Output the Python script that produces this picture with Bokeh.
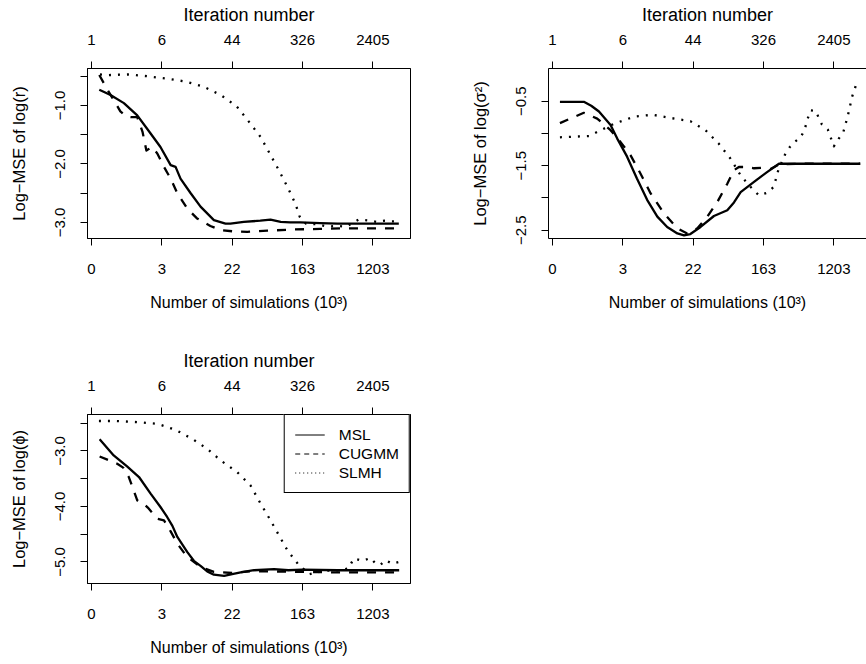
from bokeh.plotting import figure
from bokeh.models import (LinearAxis, FixedTicker, CustomJSTickFormatter, Range1d,
                          Legend, LegendItem, ColumnDataSource)
from bokeh.layouts import column, row
from bokeh.embed import file_html
from bokeh.resources import INLINE

FONT = "Liberation Sans"

# ---------------- data ----------------
tick_pos = [0, 2, 4, 6, 8]
sim_labels = ["0", "3", "22", "163", "1203"]
iter_labels = ["1", "6", "44", "326", "2405"]
series_names = ["MSL", "CUGMM", "SLMH"]

# Panel 1: log(r)
r_msl_x = [0.22, 0.54, 0.92, 1.3, 1.68, 1.96, 2.25, 2.39, 2.53, 2.82, 3.1, 3.48, 3.81, 3.95, 4.33,
           4.8, 5.09, 5.38, 5.65, 5.94, 6.5, 7.0, 7.5, 8.0, 8.74]
r_msl_y = [-0.73, -0.82, -0.96, -1.17, -1.48, -1.71, -2.02, -2.05, -2.25, -2.5, -2.73, -2.96, -3.02, -3.02, -2.99,
           -2.97, -2.95, -2.99, -3.0, -3.0, -3.01, -3.02, -3.02, -3.02, -3.02]
r_cug_x = [0.22, 0.35, 0.54, 0.82, 1.0, 1.11, 1.3, 1.45, 1.56, 1.72, 1.87, 2.06, 2.25, 2.44, 2.72, 3.0,
           3.38, 3.67, 4.0, 4.43, 5.0, 5.75, 6.5, 7.18, 8.0, 8.74]
r_cug_y = [-0.48, -0.62, -0.82, -1.1, -1.19, -1.2, -1.2, -1.45, -1.77, -1.71, -1.82, -2.05, -2.25, -2.5, -2.76, -2.93,
           -3.06, -3.13, -3.15, -3.16, -3.14, -3.12, -3.11, -3.1, -3.1, -3.1]
r_slm_x = [0.24, 0.49, 1.04, 1.58, 2.13, 2.67, 3.19, 3.67, 4.12, 4.48, 4.81, 5.04, 5.33, 5.57, 5.8, 5.92,
           6.1, 6.4, 6.7, 7.0, 7.24, 7.45, 7.6, 7.94, 8.1, 8.33, 8.5, 8.65]
r_slm_y = [-0.47, -0.48, -0.47, -0.5, -0.54, -0.59, -0.68, -0.82, -1.01, -1.28, -1.54, -1.79, -2.11, -2.39, -2.68, -2.9,
           -3.02, -3.03, -3.07, -3.06, -3.07, -3.0, -2.95, -2.97, -2.99, -2.97, -2.98, -2.98]

# Panel 2: log(sigma^2)
s_msl_x = [0.21, 0.89, 1.1, 1.32, 1.65, 1.84, 2.12, 2.4, 2.69, 2.98, 3.26, 3.55, 3.74, 3.92, 4.21, 4.59,
           4.97, 5.16, 5.35, 5.73, 6.1, 6.44, 7.0, 8.0, 8.75]
s_msl_y = [-0.51, -0.51, -0.57, -0.66, -0.87, -1.08, -1.36, -1.7, -2.03, -2.29, -2.45, -2.55, -2.58, -2.56, -2.45, -2.28,
           -2.19, -2.07, -1.91, -1.75, -1.6, -1.47, -1.47, -1.47, -1.47]
s_cug_x = [0.21, 0.89, 1.27, 1.65, 1.93, 2.22, 2.5, 2.79, 3.17, 3.55, 3.83, 4.12, 4.4, 4.69, 4.97, 5.16,
           5.3, 5.5, 5.73, 6.0, 6.2, 6.44, 7.0, 8.0, 8.75]
s_cug_y = [-0.84, -0.68, -0.77, -0.95, -1.13, -1.34, -1.62, -1.93, -2.24, -2.47, -2.55, -2.47, -2.29, -2.06, -1.78, -1.57,
           -1.52, -1.52, -1.54, -1.53, -1.55, -1.48, -1.47, -1.47, -1.47]
s_slm_x = [0.21, 0.6, 1.04, 1.37, 1.75, 2.32, 2.84, 3.36, 3.92, 4.35, 4.73, 5.06, 5.35, 5.58, 5.87, 6.1,
           6.29, 6.42, 6.61, 6.75, 6.89, 7.06, 7.17, 7.25, 7.34, 7.48, 7.66, 7.83, 8.0, 8.14, 8.27,
           8.4, 8.52, 8.68]
s_slm_y = [-1.06, -1.05, -1.04, -0.95, -0.85, -0.74, -0.71, -0.76, -0.81, -0.95, -1.16, -1.39, -1.65, -1.8, -1.96, -1.92,
           -1.83, -1.57, -1.33, -1.21, -1.13, -1.06, -0.94, -0.78, -0.64, -0.65, -0.86, -0.94, -1.2, -1.08, -0.98,
           -0.72, -0.43, -0.17]

# Panel 3: log(phi)
p_msl_x = [0.23, 0.63, 1.01, 1.35, 1.68, 1.96, 2.15, 2.3, 2.44, 2.72, 2.91, 3.1, 3.29, 3.48, 3.77, 4.0,
           4.24, 4.62, 5.19, 5.6, 6.0, 7.0, 8.0, 8.75]
p_msl_y = [-2.79, -3.08, -3.28, -3.47, -3.77, -4.01, -4.19, -4.35, -4.55, -4.82, -4.98, -5.07, -5.17, -5.23, -5.25, -5.22,
           -5.19, -5.15, -5.13, -5.15, -5.14, -5.15, -5.15, -5.15]
p_cug_x = [0.23, 0.73, 0.9, 1.06, 1.3, 1.45, 1.6, 1.87, 2.06, 2.25, 2.44, 2.72, 3.1, 3.48, 4.0, 4.5,
           5.0, 6.0, 7.0, 8.0, 8.75]
p_cug_y = [-3.1, -3.23, -3.3, -3.47, -3.89, -3.93, -4.02, -4.22, -4.25, -4.45, -4.67, -4.91, -5.09, -5.18, -5.2, -5.17,
           -5.17, -5.18, -5.19, -5.19, -5.19]
p_slm_x = [0.21, 0.7, 1.3, 1.87, 2.39, 2.86, 3.29, 3.67, 4.14, 4.52, 4.81, 5.09, 5.33, 5.57, 5.75, 5.9,
           6.2, 6.6, 7.0, 7.3, 7.46, 7.7, 7.94, 8.08, 8.22, 8.36, 8.55, 8.74]
p_slm_y = [-2.46, -2.46, -2.48, -2.51, -2.62, -2.78, -2.96, -3.17, -3.38, -3.62, -3.95, -4.25, -4.52, -4.79, -4.94, -5.06,
           -5.22, -5.16, -5.15, -5.12, -4.94, -4.98, -4.93, -5.03, -5.05, -4.97, -5.03, -5.0]

# ---------------- helpers ----------------
def label_fmt(labels):
    return CustomJSTickFormatter(args=dict(pos=tick_pos, lab=labels), code="""
        for (let i = 0; i < pos.length; i++) {
            if (Math.abs(pos[i] - tick) < 1e-9) return lab[i];
        }
        return '';
    """)


def minus_fmt():
    return CustomJSTickFormatter(code="return tick.toFixed(1).replace('-', '\\u2212');")


def style_axis(ax, tick_size="15px", label_size="16px"):
    ax.axis_line_color = "black"
    ax.axis_line_width = 1
    ax.major_tick_line_color = "black"
    ax.minor_tick_line_color = "black"
    ax.major_tick_out = 7
    ax.major_tick_in = 0
    ax.minor_tick_out = 7
    ax.minor_tick_in = 0
    ax.major_label_text_font = FONT
    ax.major_label_text_font_size = tick_size
    ax.major_label_text_color = "black"
    ax.axis_label_text_font = FONT
    ax.axis_label_text_font_style = "normal"
    ax.axis_label_text_font_size = label_size
    ax.axis_label_text_color = "black"


def panel(width, height, borders, x_end, y_range, ylab, ymajor, yminor, series,
          outline=True):
    bl, br, bt, bb = borders
    p = figure(width=width, height=height, output_backend="svg", toolbar_location=None,
               x_range=Range1d(-0.115, x_end), y_range=Range1d(*y_range),
               min_border_left=bl, min_border_right=br, min_border_top=bt,
               min_border_bottom=bb)
    p.grid.visible = False
    p.background_fill_color = "white"
    p.border_fill_color = "white"
    p.outline_line_color = "black" if outline else None
    p.outline_line_width = 1

    xb = p.xaxis[0]
    xb.ticker = FixedTicker(ticks=tick_pos)
    xb.formatter = label_fmt(sim_labels)
    xb.axis_label = "Number of simulations (10\u00b3)"
    style_axis(xb)
    xb.major_label_standoff = 18
    xb.axis_label_standoff = 17

    top = LinearAxis(ticker=FixedTicker(ticks=tick_pos), formatter=label_fmt(iter_labels),
                     axis_label="Iteration number")
    style_axis(top, label_size="18px")
    top.major_label_standoff = 17
    top.axis_label_standoff = 7
    p.add_layout(top, "above")

    ya = p.yaxis[0]
    ya.ticker = FixedTicker(ticks=ymajor, minor_ticks=yminor)
    ya.formatter = minus_fmt()
    ya.axis_label = ylab
    style_axis(ya, label_size="16.5px")
    ya.major_label_orientation = "vertical"
    ya.major_label_standoff = 15
    ya.axis_label_standoff = 25

    dashes = ["solid", "9 9", "2 7"]
    for (xs, ys), dash in zip(series, dashes):
        p.line(xs, ys, line_color="black", line_width=2.3, line_dash=dash,
               line_join="round")
    return p


W1, W2 = 440, 426
H1, H3 = 346, 317

p1 = panel(W1, H1, (87, 30, 68, 108), 9.072, (-3.274, -0.368),
           "Log\u2212MSE of log(r)", [-1.0, -2.0, -3.0], [-0.5, -1.5, -2.5],
           [(r_msl_x, r_msl_y), (r_cug_x, r_cug_y), (r_slm_x, r_slm_y)])

p2 = panel(W2, H1, (108, 0, 68, 108), 8.929, (-2.629, 0.007),
           "Log\u2212MSE of log(\u03c3\u00b2)", [-0.5, -1.5, -2.5], [-1.0, -2.0],
           [(s_msl_x, s_msl_y), (s_cug_x, s_cug_y), (s_slm_x, s_slm_y)],
           outline=False)

p3 = panel(W1, H3, (87, 30, 68, 80), 9.072, (-5.389, -2.343),
           "Log\u2212MSE of log(\u03d5)", [-3.0, -4.0, -5.0], [-2.5, -3.5, -4.5],
           [(p_msl_x, p_msl_y), (p_cug_x, p_cug_y), (p_slm_x, p_slm_y)])

# legend with thin sample lines (like R's legend, lwd = 1); one NaN point each, so nothing is drawn in the plot
nan = float("nan")
leg_src = ColumnDataSource(data=dict(x=[nan], y=[nan]))
leg_dashes = ["solid", "5 4", "1 3"]
items = []
for name, dash in zip(series_names, leg_dashes):
    r = p3.line("x", "y", source=leg_src, line_color="black", line_width=1, line_dash=dash)
    items.append(LegendItem(label=name, renderers=[r]))
legend = Legend(items=items, location="top_right", margin=0, padding=10, spacing=0,
                glyph_width=30, glyph_height=19, label_height=19, label_standoff=14,
                label_text_font=FONT, label_text_font_size="15.5px", label_text_color="black",
                border_line_color="black", border_line_width=1, border_line_alpha=1,
                background_fill_color="white", background_fill_alpha=1)
p3.add_layout(legend)

layout = column(row(p1, p2), row(p3))

open("out.html", "w").write(file_html(layout, INLINE))
